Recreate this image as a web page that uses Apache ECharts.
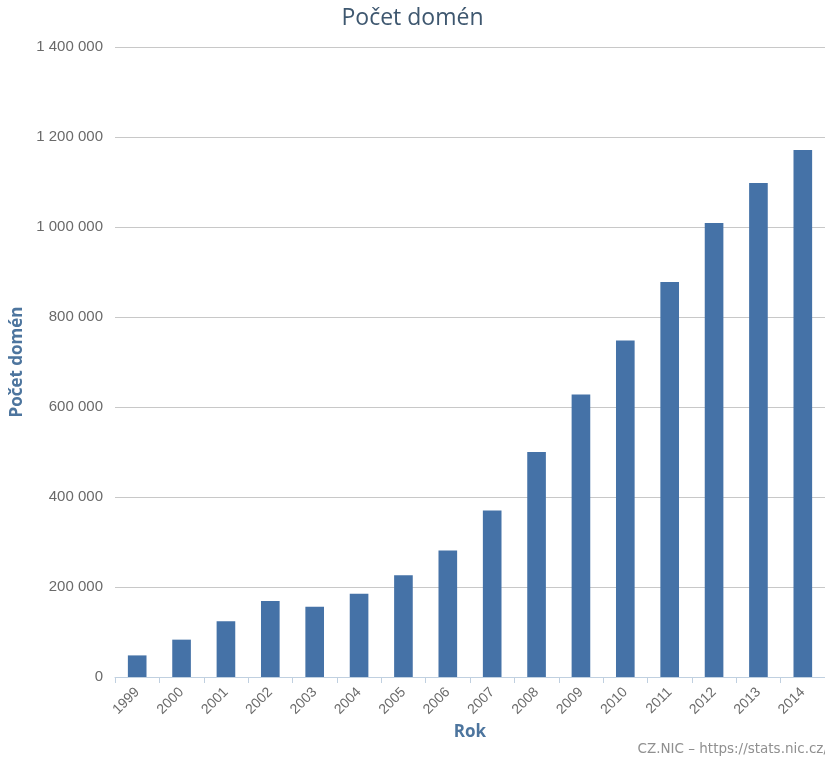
<!DOCTYPE html>
<html>
<head>
<meta charset="utf-8">
<style>html,body{margin:0;padding:0;background:#fff}#c{width:825px;height:760px}</style>
<script src="https://cdn.jsdelivr.net/npm/echarts@6/dist/echarts.min.js"></script>
</head>
<body>
<div id="c"></div>
<script>
var years = ['1999','2000','2001','2002','2003','2004','2005','2006','2007','2008','2009','2010','2011','2012','2013','2014'];
var domains = [48000, 83000, 124000, 169000, 156000, 185000, 226000, 281000, 370000, 500000, 628000, 748000, 878000, 1009000, 1098000, 1171000];
var titleText = 'Počet domén';
var yName = 'Počet domén';
var xName = 'Rok';
var creditText = 'CZ.NIC – https://stats.nic.cz/';

function fmt(v){ return String(v).replace(/\B(?=(\d{3})+(?!\d))/g, ' '); }

var chart = echarts.init(document.getElementById('c'));
chart.setOption({
  backgroundColor: '#fff',
  animation: false,
  title: {
    text: titleText, left: 'center', top: 2,
    textStyle: { fontFamily: 'Open Sans', fontSize: 23, fontWeight: 'normal', color: '#3e576f' }
  },
  grid: { left: 115, right: -4, top: 47, bottom: 83, containLabel: false },
  xAxis: {
    type: 'category', data: years,
    name: xName, nameLocation: 'middle', nameGap: 39,
    nameTextStyle: { fontFamily: 'Open Sans', fontSize: 17, fontWeight: 'bold', color: '#4d759e' },
    axisLine: { lineStyle: { color: '#c0d0e0', width: 1 } },
    axisTick: { show: true, length: 6, lineStyle: { color: '#c0d0e0' } },
    axisLabel: { rotate: 45, fontFamily: 'Liberation Sans', fontSize: 14, color: '#6a6a6a', margin: 13 }
  },
  yAxis: {
    type: 'value', min: 0, max: 1400000, interval: 200000,
    name: yName, nameLocation: 'middle', nameGap: 87, nameRotate: 90,
    nameTextStyle: { fontFamily: 'Open Sans', fontSize: 17, fontWeight: 'bold', color: '#4d759e' },
    axisLine: { show: false }, axisTick: { show: false },
    axisLabel: { formatter: fmt, fontFamily: 'Liberation Sans', fontSize: 15, color: '#6a6a6a', margin: 12 },
    splitLine: { lineStyle: { color: '#c8c8c8', width: 1 } }
  },
  series: [{
    type: 'bar', data: domains, barWidth: '42%',
    itemStyle: { color: '#4572a7' }
  }],
  graphic: [{
    type: 'text', right: -3, top: 742,
    style: { text: creditText, fontFamily: 'DejaVu Sans', fontSize: 13.5, fill: '#909090' }
  }]
});
</script>
</body>
</html>
